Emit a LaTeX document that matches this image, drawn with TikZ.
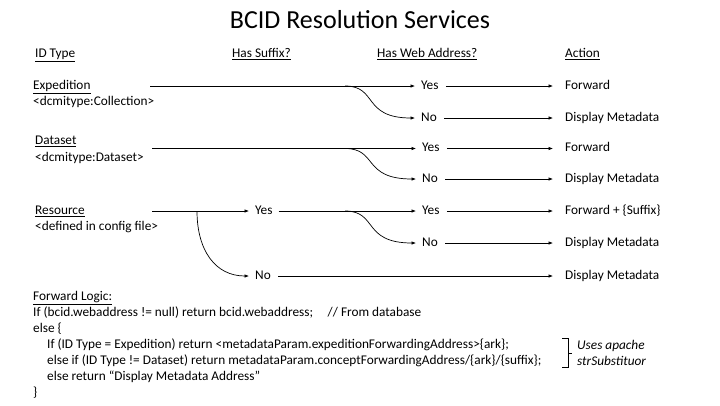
\documentclass[tikz,border=0pt]{standalone}
\usepackage{fontspec}
\setmainfont{Carlito}
\usetikzlibrary{arrows.meta,positioning}

\begin{document}
\begin{tikzpicture}[
    x=1pt,y=-1pt,
    every node/.style={font=\fontsize{13.3}{16}\selectfont},
    lbl/.style={anchor=west,inner xsep=0pt,inner ysep=0pt,text height=9.5pt,text depth=3pt},
    arrow/.style={-{Latex[length=4.5pt,width=3.6pt]},line width=0.7pt},
    into/.style={arrow,shorten >=6pt},
    onward/.style={arrow,shorten <=7pt,shorten >=12pt}
  ]
    \useasboundingbox (0,0) rectangle (720,405);
    \node[font=\fontsize{26}{31}\selectfont] (title) at (360,20) {BCID Resolution Services};

    % column headers
    \node[lbl] (hid) at (35,54) {\underline{ID Type}};
    \node[lbl] (hsfx) at (232,54) {\underline{Has Suffix?}};
    \node[lbl] (hweb) at (377,54) {\underline{Has Web Address?}};
    \node[lbl] (hact) at (565,54) {\underline{Action}};

    % expedition
    \node[lbl] (exp) at (33,86) {\underline{Expedition}};
    \node[lbl] (expt) at (33,102) {<dcmitype:Collection>};
    \coordinate (expS) at (150,86);
    \coordinate (expB) at (345,86);
    \node[lbl] (expY) at (421,86) {Yes};
    \node[lbl] (expN) at (421,118) {No};
    \node[lbl] (expF) at (565,86) {Forward};
    \node[lbl] (expD) at (565,118) {Display Metadata};

    \draw[into] (expS) -- (expY.west);
    \draw[into] (expB) .. controls (378,86) and (362,118) .. (expN.west);
    \draw[onward] (expY.east) -- (expF.west);
    \draw[onward] (expN.east) -- (expD.west);

    % dataset
    \node[lbl] (dat) at (35,141) {\underline{Dataset}};
    \node[lbl] (datt) at (35,158) {<dcmitype:Dataset>};
    \coordinate (datS) at (152,148.5);
    \coordinate (datB) at (345,148.5);
    \node[lbl] (datY) at (422,148.5) {Yes};
    \node[lbl] (datN) at (422,179) {No};
    \node[lbl] (datF) at (565,148.5) {Forward};
    \node[lbl] (datD) at (565,179) {Display Metadata};

    \draw[into] (datS) -- (datY.west);
    \draw[into] (datB) .. controls (378,148.5) and (362,179) .. (datN.west);
    \draw[onward] (datY.east) -- (datF.west);
    \draw[onward] (datN.east) -- (datD.west);

    % resource
    \node[lbl] (res) at (35,211) {\underline{Resource}};
    \node[lbl] (rest) at (35,227) {<defined in config file>};
    \coordinate (resS) at (152,211);
    \coordinate (resB) at (197,211);
    \node[lbl] (resY) at (255,211) {Yes};
    \node[lbl] (resN) at (255,276) {No};
    \coordinate (webB) at (345,211);
    \node[lbl] (webY) at (422,211) {Yes};
    \node[lbl] (webN) at (422,243) {No};
    \node[lbl] (resF) at (565,211) {Forward + \{Suffix\}};
    \node[lbl] (webD) at (565,243) {Display Metadata};
    \node[lbl] (resD) at (565,276) {Display Metadata};

    \draw[into] (resS) -- (resY.west);
    \draw[into] (resB) .. controls (197,250) and (215,276) .. (resN.west);
    \draw[arrow,shorten <=6pt,shorten >=6pt] (resY.east) -- (webY.west);
    \draw[into] (webB) .. controls (378,211) and (362,243) .. (webN.west);
    \draw[onward] (webY.east) -- (resF.west);
    \draw[onward] (webN.east) -- (webD.west);
    \draw[onward] (resN.east) -- (resD.west);

    % forward logic
    \node[lbl] (logic) at (33,297) {\underline{Forward Logic:}};
    \node[lbl] (l1) at (33,313) {If (bcid.webaddress != null) return bcid.webaddress;\hspace{1.1em}// From database};
    \node[lbl] (l2) at (33,329) {else \{};
    \node[lbl] (l3) at (47,345) {If (ID Type = Expedition) return <metadataParam.expeditionForwardingAddress>\{ark\};};
    \node[lbl] (l4) at (47,361) {else if (ID Type != Dataset) return metadataParam.conceptForwardingAddress/\{ark\}/\{suffix\};};
    \node[lbl] (l5) at (47,377) {else return “Display Metadata Address”};
    \node[lbl] (l6) at (33,393) {\}};

    \node[anchor=west,align=left,inner sep=0pt,font=\fontsize{13.3}{16}\selectfont\itshape] (note) at (577,353) {Uses apache\\strSubstituor};
    \draw[line width=0.7pt] ([xshift=-15pt]note.west |- l3.north) -- ([xshift=-9pt]note.west |- l3.north)
      -- ([xshift=-9pt]note.west |- l4.south) -- ([xshift=-15pt]note.west |- l4.south);
    \draw[line width=0.7pt] ([xshift=-9pt]note.west) -- ([xshift=-5pt]note.west);
  \end{tikzpicture}
\end{document}
